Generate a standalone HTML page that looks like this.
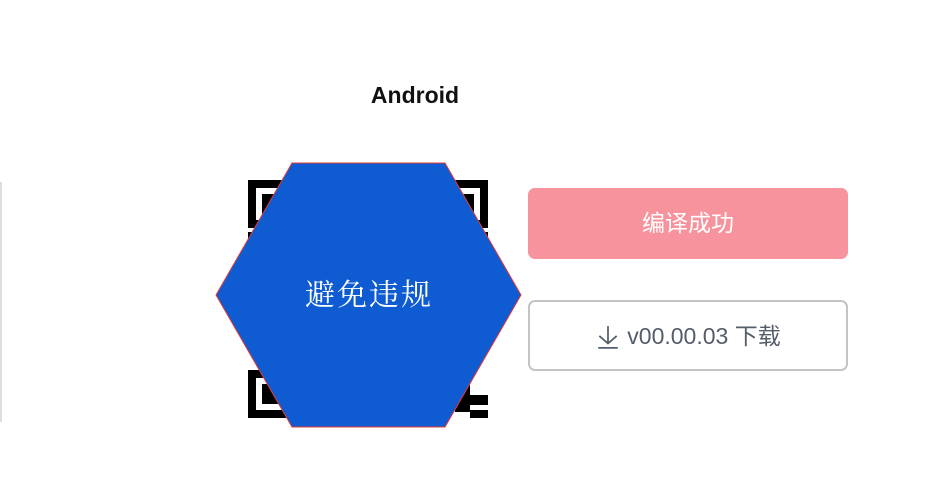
<!DOCTYPE html>
<html><head><meta charset="utf-8"><style>
body{margin:0;width:950px;height:488px;background:#fff;position:relative;overflow:hidden;font-family:"Liberation Sans","Noto Sans CJK SC",sans-serif}
.t{position:absolute;left:0;width:830px;top:82px;text-align:center;font-size:23px;font-weight:bold;color:#111}
.b{position:absolute;left:528px;width:320px;box-sizing:border-box;border-radius:7px;text-align:center;font-size:23px}
</style></head><body>
<div style="position:absolute;left:0;top:182px;width:2px;height:240px;background:#ddd"></div>
<div class="t">Android</div>
<svg width="950" height="488" style="position:absolute;left:0;top:0">
<g fill="none" stroke="#000" stroke-width="8">
<rect x="252" y="184" width="40" height="40"/>
<rect x="444" y="184" width="40" height="40"/>
<rect x="252" y="374" width="40" height="40"/>
</g>
<rect x="262" y="194" width="20" height="20"/><rect x="454" y="194" width="20" height="20"/><rect x="262" y="384" width="20" height="20"/>
<rect x="248" y="232" width="40" height="8"/><rect x="450" y="232" width="38" height="8"/>
<rect x="455" y="382" width="15" height="30"/><rect x="465" y="395" width="23" height="10"/><rect x="470" y="410" width="18" height="8"/>
<polygon points="292,163 445,163 521,295 445,427 292,427 216,295" fill="#0f5bd1" stroke="#e53935" stroke-width="1"/>
<text x="369" y="305" text-anchor="middle" fill="#fff" font-size="30" font-family="Noto Serif CJK SC,serif" letter-spacing="2">避免违规</text>
</svg>
<div class="b" style="top:188px;height:71px;line-height:71px;background:#f7939c;color:#fff">编译成功</div>
<div class="b" style="top:300px;height:71px;line-height:69px;border:2px solid #c4c4c4;color:#555d6b">
<svg width="26" height="26" style="vertical-align:-6px;margin-right:6px" viewBox="0 0 24 24" fill="none" stroke="#555d6b" stroke-width="1.6"><path d="M12 2v16M4 11l8 7 8-7M3 22h18"/></svg>v00.00.03 下载</div>
</body></html>
